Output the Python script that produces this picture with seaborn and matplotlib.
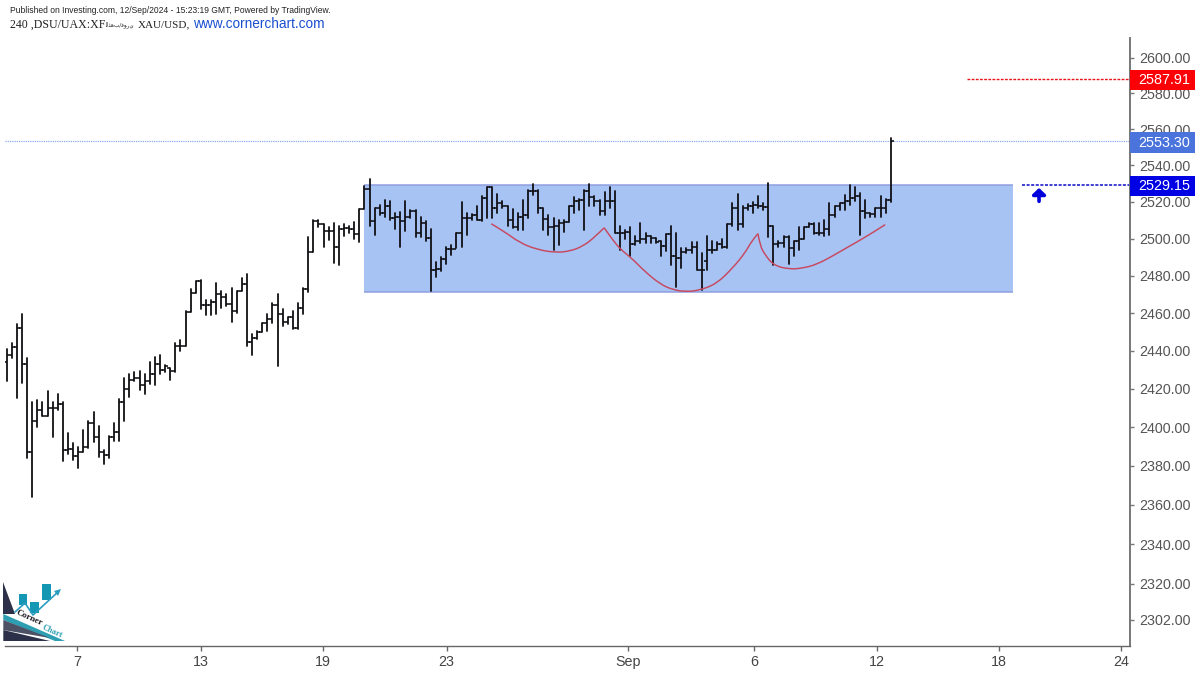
import matplotlib
matplotlib.use("Agg")
import matplotlib.pyplot as plt
from matplotlib.patches import Rectangle, Polygon, PathPatch
from matplotlib.path import Path
from matplotlib.ticker import FixedLocator, FixedFormatter, NullLocator
import numpy as np
import pandas as pd
import seaborn as sns

# ---------- data ----------
opens = [2434,2438,2442,2452,2433,2387,2403.5,2409,2406,2410,2410,2412,2388,2388.6,2385,2387,2389.6,2402,2395,2387,
 2385.6,2395,2397.5,2413,2420,2424.5,2425.5,2422,2424,2427.6,2433,2430,2431,2429.4,2442.5,2442.5,2460.5,2471,2477,2464.5,
 2464.5,2466,2470,2468.5,2465,2461,2472,2475.7,2444.7,2447,2450,2454.6,2456.8,2464.5,2459.7,2455.5,2458,2452.3,2463,2473,
 2492.8,2509.5,2507.7,2504,2504,2495.7,2505,2506,2505,2502.7,2516,2527,2509.5,2516.4,2514,2518,2511,2512,2509.5,2512,
 2515,2503,2508.6,2500.5,2483,2483.8,2488.8,2494.6,2494.6,2503,2511,2511,2513,2510.4,2522,2528,2516.4,2519.4,2517.6,2510.4,
 2506.3,2512,2513,2525.7,2525.7,2516.7,2510.8,2506.3,2506.8,2508.6,2509,2517.6,2520.3,2520.9,2525.7,2522.5,2520.3,2515,2520.3,2520.3,
 2503,2503,2503.6,2497.3,2498.7,2499.6,2501.4,2500.5,2498.7,2496,2502.3,2490.6,2489.4,2493,2494,2495.7,2483,2488,2494,2494,
 2497,2495.5,2507.7,2516.7,2508,2516.7,2517.6,2518.5,2517.6,2517.3,2506.8,2497,2497.8,2501,2495,2498.7,2499.6,2506.3,2507.7,2503.2,
 2503.2,2505.4,2513,2517.6,2519.4,2520.3,2522,2523,2515,2514,2513.5,2516.7,2516.7,2521]
highs = [2441,2444,2454,2459.5,2436,2413,2414,2413,2419,2413,2417.5,2413,2397,2392,2389.6,2398.4,2403,2408,2400.5,2388,
 2395.6,2402,2414.5,2425.5,2427.6,2429,2429.5,2427.6,2434,2437,2438,2432.5,2431,2444,2446,2461.4,2473,2477,2477.5,2467,
 2467,2476,2472,2470,2473.5,2472,2478.6,2481,2449,2450.5,2455,2459.5,2465.4,2470.5,2462,2458,2461,2465.6,2473.5,2501,
 2510,2510.4,2507.7,2506.3,2508.5,2506.8,2508,2506.8,2509,2516,2528.4,2532.4,2516.7,2518.5,2521,2520.3,2514,2514.6,2520.3,2515.3,
 2515.3,2511.7,2509.5,2505,2487.6,2490,2495.5,2496.6,2503,2520,2514,2513.5,2517.6,2523,2528,2528,2524.5,2520.3,2517.6,2516,
 2514,2521,2526.6,2530,2526.6,2516.7,2512.6,2511.3,2510.4,2510.4,2518,2522.5,2521.8,2526.6,2529.7,2523,2520.9,2525.4,2528,2526,
 2506.8,2504.7,2506.3,2501.4,2508.3,2503,2501.4,2500.5,2498.7,2502.3,2507,2503,2495,2495,2498,2498,2492,2501.4,2498.7,2498,
 2499.6,2508,2519.4,2524.5,2518,2519,2520,2523,2519.4,2530.2,2506.8,2498.7,2501.4,2501.4,2499,2506.3,2506.5,2508.3,2508.3,2508.6,
 2510.4,2519.4,2518,2519.4,2524,2529.3,2528,2524.8,2521,2514,2516.7,2523,2521.8,2555]
lows = [2424,2436,2415,2423,2384,2364,2400,2406,2406,2395,2409,2382.5,2386,2383,2379,2387,2389,2392.6,2384.4,2381,
 2384,2393,2393,2403,2416,2424,2419.4,2417.6,2422.4,2422,2428,2428.7,2424.5,2429,2440,2442.5,2460.6,2471,2462,2459,
 2459,2459.7,2463,2463.6,2455.5,2460,2472,2442.4,2438,2446.5,2450,2450.7,2454.6,2432,2453.4,2454.3,2451.6,2451.4,2459.7,2471.4,
 2492.8,2506.3,2495.5,2499.5,2487,2486,2501.4,2503,2500,2498,2516,2506.8,2501.8,2513,2512,2510,2505,2495.5,2504,2511,
 2501,2501,2499,2471.7,2479.5,2482.5,2486.5,2491,2495,2495.5,2502,2510,2510,2509.5,2511,2511,2514,2516.7,2506.8,2506,
 2504.7,2504.7,2511.3,2524,2514,2504.7,2502,2494,2496.6,2503.8,2509,2514,2515.8,2504.7,2518,2517.6,2513,2513,2516.7,2503,
 2494,2499.6,2490.6,2496.6,2497.8,2497.8,2497.8,2497.8,2490.6,2493.3,2485.8,2474,2484.3,2492,2492,2483,2472.6,2483,2492.4,2493.7,
 2495,2494.8,2506.8,2504.5,2506.5,2515.8,2513.7,2516.7,2515.8,2501,2485.6,2495.5,2495.5,2486.5,2490.6,2494,2499.6,2506.3,2502.3,2502,
 2501.4,2501.8,2512,2515.8,2515.8,2518.5,2520.3,2501.8,2511,2511.7,2511.7,2511.7,2513.7,2520]
closes = [2438,2442,2452,2433,2387,2403.5,2409,2406,2410,2410,2412,2388,2388.6,2385,2387,2389.6,2402,2395,2387,2385.6,
 2395,2397.5,2413,2420,2424.5,2425.5,2422,2424,2427.6,2433,2430,2432,2429.4,2442.5,2442.5,2460.5,2471,2477,2464.5,2464.5,
 2466,2470,2468.5,2465,2461,2472,2475.7,2444.7,2447,2450,2454.6,2456.8,2464.5,2459.7,2455.5,2458,2452.3,2463,2473,2492.8,
 2509.5,2507.7,2504,2504,2495.7,2505,2506,2505,2502.7,2516,2527,2509.5,2516.4,2514,2518,2511,2512,2509.5,2512,2515,
 2503,2508.6,2500.5,2483,2483.8,2488.8,2494.6,2494.6,2503,2511,2511,2513,2510.4,2522,2528,2516.4,2519.4,2517.6,2510.4,2506.3,
 2512,2513,2525.7,2525.7,2516.7,2510.8,2506.3,2506.8,2508.6,2509,2517.6,2520.3,2520.9,2525.7,2522.5,2520.3,2515,2520.3,2520.3,2503,
 2503,2503.6,2497.3,2498.7,2499.6,2501.4,2500.5,2498.4,2496,2502.3,2490.6,2489.4,2493,2494,2495.7,2483,2483,2494,2494,2497,
 2495.5,2507.7,2516.7,2508,2516.7,2517.6,2518.5,2517.6,2517.3,2506.8,2497,2497.8,2501,2495,2498.7,2499.6,2506.3,2507.7,2503.2,2503.2,
 2505.4,2513,2517.6,2519.4,2520.3,2522,2523,2515,2514,2513.5,2516.7,2516.7,2521,2553.6]

cup1_x = [94.8,97.2,100.4,103.7,107.3,110.2,112.8,115.1,116.9]
cup1_y = [2508.1,2504.2,2497.8,2494.2,2492.5,2493.2,2496,2500.9,2505.9]
cup2_x = [116.9,118.4,120.1,122.2,124.9,127.8,130.2,133.0,135.6,138.9,142.1,144.5,145.8,147.0]
cup2_y = [2505.9,2500,2494.2,2489.7,2482.2,2475.7,2472.6,2471.4,2472.3,2475.7,2484.3,2492.4,2498.9,2502.7]
cup3_x = [147,147.4,148.4,150.1,153.1,155.8,158.5,161.7,165,168.5,171.9]
cup3_y = [2502.7,2496.3,2491.2,2485.6,2483.5,2484.1,2486.1,2490.8,2496.1,2501.6,2507.6]

zone_left, zone_right = 69.9, 196.9
zone_top, zone_bottom = 2529.15, 2471.2
last_price, target_price, break_price = 2553.30, 2587.91, 2529.15
target_start, break_start = 187.9, 198.7

y_ticks = [2302] + list(range(2320, 2601, 20))
y_tick_labels = [f"{v}.00" for v in y_ticks]
x_ticks = [13.75, 38.0, 61.9, 86.1, 121.6, 146.2, 170.3, 194.2, 218.0]
x_tick_labels = ["7", "13", "19", "23", "Sep", "6", "12", "18", "24"]
# ------------------------------------------------

sns.set_theme(style="white")
plt.rcParams["font.family"] = ["Liberation Sans", "DejaVu Sans"]

W, H = 1200, 673
fig = plt.figure(figsize=(12, 6.73), dpi=100, facecolor="white")
ax = fig.add_axes([5/W, 1-646/H, 1125/W, 608/H])
ax.set_yscale("log")
ax.set_xlim(-0.33, 219.8)
ax.set_ylim(2289, 2611)

n = len(closes)
idx = np.arange(n)
BAR = "#101014"

# Consolidation zone
ax.add_patch(Rectangle((zone_left, zone_bottom), zone_right-zone_left, zone_top-zone_bottom,
                       facecolor="#a6c3f3", edgecolor="none", zorder=1))
ax.hlines([zone_top, zone_bottom], zone_left, zone_right, color="#8f9fe0", lw=1.1, zorder=1.2)

# High-low stems through seaborn
stems = pd.DataFrame({
    "bar": np.r_[idx, idx],
    "price": np.r_[np.array(lows), np.array(highs)],
})
sns.lineplot(data=stems, x="bar", y="price", units="bar", estimator=None, sort=False,
             color=BAR, lw=1.3, ax=ax, zorder=3, legend=False)
ax.hlines(opens, idx-0.55, idx, color=BAR, lw=1.15, zorder=3)
ax.hlines(closes, idx, idx+0.55, color=BAR, lw=1.15, zorder=3)

# Cup curves: the read points steer smooth quadratic segments
for cx, cy in [(cup1_x, cup1_y), (cup2_x, cup2_y), (cup3_x, cup3_y)]:
    pts = list(zip(cx, cy))
    verts, codes = [pts[0]], [Path.MOVETO]
    for k in range(1, len(pts)-1):
        a, b = pts[k], pts[k+1]
        end = b if k == len(pts)-2 else ((a[0]+b[0])/2, (a[1]+b[1])/2)
        verts += [a, end]
        codes += [Path.CURVE3, Path.CURVE3]
    ax.add_patch(PathPatch(Path(verts, codes), facecolor="none", edgecolor="#c8485f", lw=1.05, zorder=4))

# Level lines
ax.hlines(last_price, -0.33, 219.8, color="#8eaaf0", lw=0.9, linestyles=(0, (1, 0.8)), zorder=2)
ax.hlines(target_price, target_start, 219.8, color="#e8141c", lw=1.0, linestyles=(0, (2, 1)), zorder=2)
ax.hlines(break_price, break_start, 219.8, color="#0a0ac8", lw=1.1, linestyles=(0, (2, 1)), zorder=2)
ax.annotate("", xy=(202, 2527.6), xytext=(202, 2520.3),
            arrowprops=dict(arrowstyle="-|>,head_width=0.32,head_length=0.3", color="#0000dc",
                            lw=2.6, shrinkA=0, shrinkB=0), zorder=5)

# Axes styling
for s in ("left", "top"):
    ax.spines[s].set_visible(False)
ax.spines["right"].set_color("#777777")
ax.spines["right"].set_linewidth(1.4)
ax.spines["bottom"].set_color("#666666")
ax.spines["bottom"].set_linewidth(1.0)
ax.set_xlabel("")
ax.set_ylabel("")
ax.yaxis.tick_right()
ax.yaxis.set_major_locator(FixedLocator(y_ticks))
ax.yaxis.set_major_formatter(FixedFormatter(y_tick_labels))
ax.yaxis.set_minor_locator(NullLocator())
ax.set_xticks(x_ticks)
ax.set_xticklabels(x_tick_labels)
ax.tick_params(axis="y", which="major", right=True, length=3, width=1, color="#777777",
               labelcolor="#555555", labelsize=10.3, pad=3.4)
ax.tick_params(axis="x", which="major", bottom=True, length=3.5, width=1, color="#666666",
               labelcolor="#444444", labelsize=10.3, pad=3)

def fx(px): return px/W
def fy(py): return 1-py/H

# Price tags
for py0, py1, col, price in [(70, 90, "#fb0006", target_price),
                             (132, 153, "#4a74dc", last_price),
                             (176, 196, "#0000e4", break_price)]:
    fig.add_artist(Rectangle((fx(1130), fy(py1)), 65/W, (py1-py0)/H, transform=fig.transFigure,
                             facecolor=col, edgecolor="none", zorder=5))
    fig.text(fx(1164), fy((py0+py1)/2+0.3), f"{price:.2f}", color="white", fontsize=10.4,
             ha="center", va="center", zorder=6)

# Header
fig.text(fx(10), fy(10.5), "Published on Investing.com, 12/Sep/2024 - 15:23:19 GMT, Powered by TradingView.",
         fontsize=6.13, color="#222222", va="center", ha="left")
fig.text(fx(10), fy(24.5), "240 ,DSU/UAX:XF", family="Liberation Serif", fontsize=8.55, color="#222222",
         va="center", ha="left")
fig.text(fx(106), fy(25), "ﺍﻟﺬﻫﺐ/ﻓﻮﺭﻱ", family="DejaVu Sans", fontsize=4.0, color="#333333", va="center", ha="left")
fig.text(fx(138), fy(24.5), "XAU/USD,", family="Liberation Serif", fontsize=8.0, color="#222222",
         va="center", ha="left")
fig.text(fx(193), fy(23.5), "www.cornerchart.com", fontsize=9.8, color="#1a4fd0", va="center", ha="left")

# Logo, in pixel positions of the picture
def P(pts, **kw):
    fig.add_artist(Polygon([(fx(x), fy(y)) for x, y in pts], closed=True, transform=fig.transFigure,
                           edgecolor="none", zorder=3, **kw))
P([(3.3, 582), (3.3, 614), (15, 614)], facecolor="#2c3048")
P([(3.3, 614), (65, 641), (55, 641), (3.3, 620)], facecolor="#2e9fb2")
P([(3.3, 620), (50, 638), (3.3, 630)], facecolor="#4c5166")
P([(3.3, 630), (50, 641), (3.3, 641)], facecolor="#2c3048")
for x0, x1, y0, y1 in [(18.5, 27.5, 594, 605), (30, 39, 602, 613), (42, 51, 583.5, 600)]:
    P([(x0, y0), (x1, y0), (x1, y1), (x0, y1)], facecolor="#1497b3")
fig.add_artist(plt.Line2D([fx(15), fx(25), fx(33), fx(59)], [fy(612), fy(603), fy(615), fy(591)],
                          transform=fig.transFigure, color="#2a9cc0", lw=1.2, zorder=4))
P([(61, 589), (54, 591), (58, 596)], facecolor="#2a9cc0")
fig.text(fx(29), fy(618), "Corner", family="Liberation Serif", fontweight="bold", fontsize=6.6, color="#1a1a22",
         rotation=-24, rotation_mode="anchor", ha="center", va="center", zorder=6)
fig.text(fx(52), fy(632), "Chart", family="Liberation Serif", fontweight="bold", fontsize=6, color="#2e9fb2",
         rotation=-24, rotation_mode="anchor", ha="center", va="center", zorder=6)

fig.savefig("out.png", dpi=100, facecolor="white")
